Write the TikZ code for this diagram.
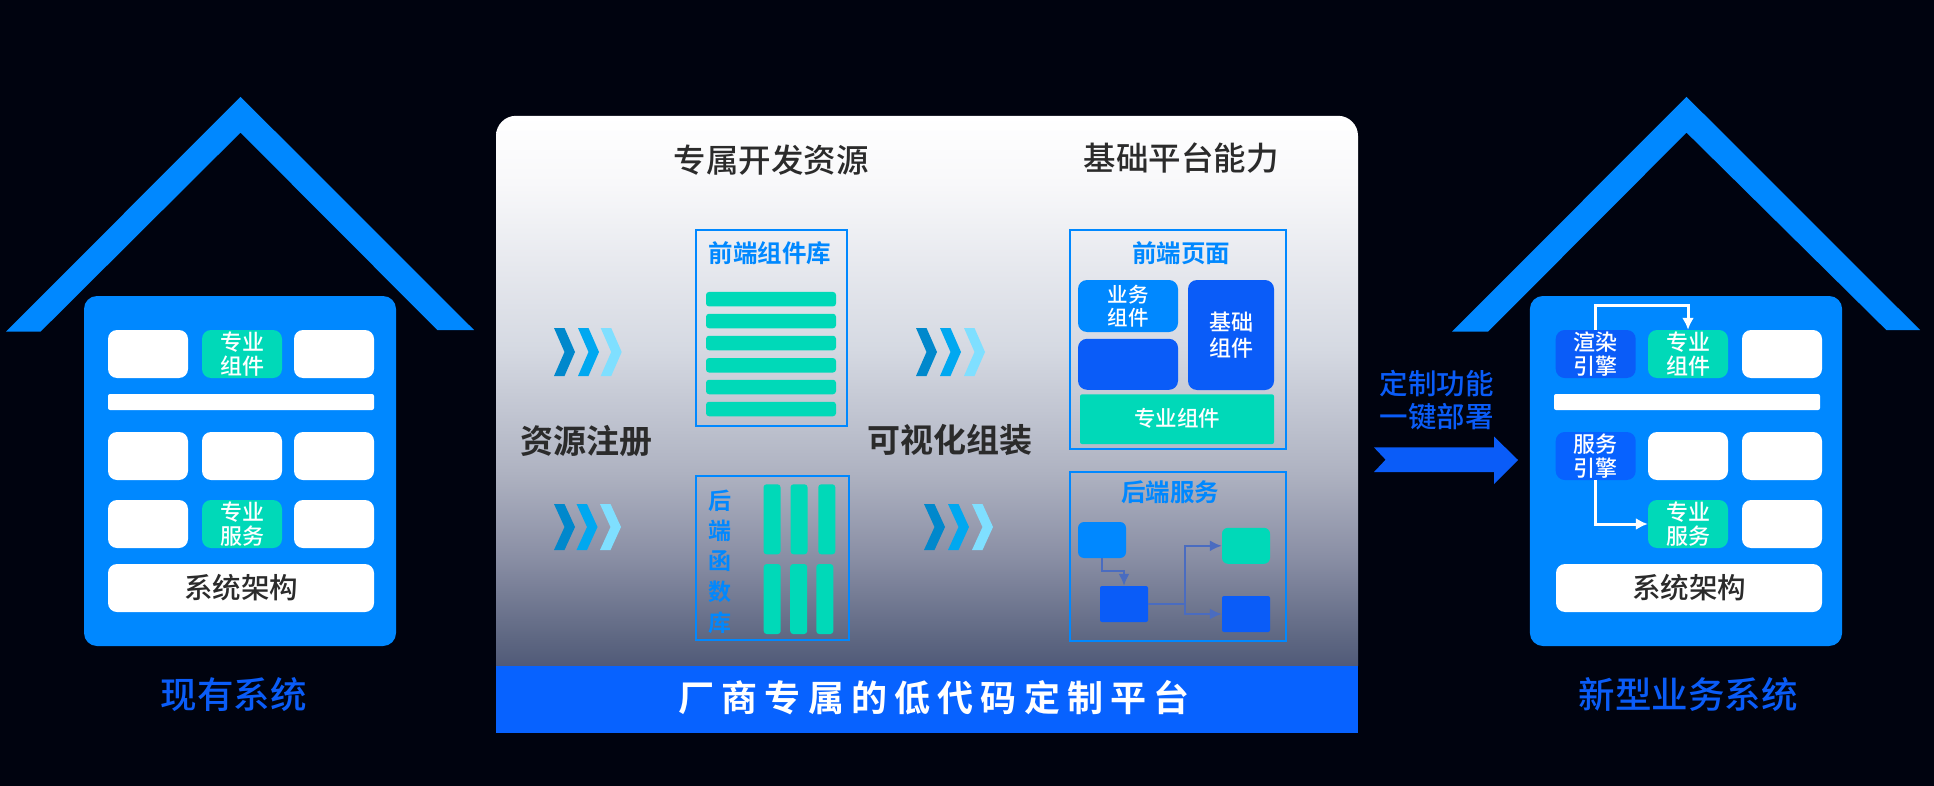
\documentclass[tikz,border=0pt]{standalone}
\usepackage{fontspec}
\setmainfont[UprightFont=* Medium,BoldFont=* Bold]{Noto Sans CJK SC}
\newfontfamily\bandfont[LetterSpace=20,UprightFont=* Bold]{Noto Sans CJK SC}
\usetikzlibrary{arrows.meta}
\definecolor{bgdark}{HTML}{00030F}
\definecolor{bodyblue}{HTML}{0088FF}
\definecolor{deepblue}{HTML}{0A5CF8}
\definecolor{bandblue}{HTML}{0762FF}
\definecolor{tealbox}{HTML}{00D9B8}
\definecolor{inkdark}{HTML}{2B2B2B}
\definecolor{flowline}{HTML}{4A6CC0}
\definecolor{chevdark}{HTML}{0088CC}
\definecolor{chevmid}{HTML}{00A8F0}
\definecolor{chevlight}{HTML}{7FDFFF}
\definecolor{gradA}{HTML}{505A78}
\definecolor{gradB}{HTML}{5E6782}
\definecolor{gradC}{HTML}{8A8FA5}
\definecolor{gradD}{HTML}{AEB2C1}
\definecolor{gradE}{HTML}{D5D9E2}
\definecolor{gradF}{HTML}{F8F8FA}
\pgfdeclareverticalshading{panelgrad}{100bp}{color(0bp)=(gradA); color(25bp)=(gradA); color(27.5bp)=(gradB); color(35bp)=(gradC); color(42.5bp)=(gradD); color(53.8bp)=(gradE); color(68.9bp)=(gradF); color(75bp)=(white); color(100bp)=(white)}
\newcommand{\fsz}[1]{\fontsize{#1}{#1}\selectfont}
\newcommand{\chevrons}[5]{% x1, x2, x3, top, bottom
\foreach \x/\c in {#1/chevdark,#2/chevmid,#3/chevlight} {
	\fill[\c] (\x,#4) -- (\x+10.5,#4) -- (\x+21,{(#4+#5)/2}) -- (\x+10.5,#5) -- (\x,#5) -- (\x+10.5,{(#4+#5)/2}) -- cycle;
}}
\tikzset{
	cell/.style={fill=white,rounded corners=9pt,minimum width=80pt,minimum height=48pt,inner sep=0pt,text=white,align=center,font=\fsz{22}},
	wide/.style={cell,minimum width=266pt,text=inkdark,font=\fsz{28.5}},
	thinbar/.style={fill=white,rounded corners=2pt,minimum width=266pt,minimum height=16pt,inner sep=0pt},
	teal/.style={cell,fill=tealbox},
	engine/.style={cell,fill=deepblue},
	house/.style={fill=bodyblue,rounded corners=13pt,minimum width=#1,minimum height=350pt,inner sep=0pt},
	caption/.style={text=deepblue,inner sep=0pt,font=\fsz{36.5}},
	heading/.style={text=inkdark,inner sep=0pt,font=\fsz{32.5}},
	stage/.style={text=inkdark,inner sep=0pt,font=\fsz{33}\bfseries},
	frame/.style={draw=bodyblue,line width=2pt,inner sep=0pt},
	frametitle/.style={text=bodyblue,inner sep=0pt,align=center,font=\fsz{24.5}\bfseries},
	tealbar/.style={fill=tealbox,rounded corners=3pt,minimum width=130pt,minimum height=14.5pt,inner sep=0pt},
	pillar/.style={fill=tealbox,rounded corners=3pt,minimum width=17pt,minimum height=70pt,inner sep=0pt},
	flowbox/.style={minimum width=48pt,minimum height=36pt,inner sep=0pt,rounded corners=6pt},
	flowarrow/.style={draw=flowline,line width=2pt,-{Latex[length=12pt,width=11pt]}},
	whitearrow/.style={draw=white,line width=3pt,-{Latex[length=12pt,width=12pt]}}
}
\begin{document}
\begin{tikzpicture}[x=1pt,y=-1pt]
\fill[bgdark] (0,0) rectangle (1934,786);
\useasboundingbox (0,0) rectangle (1934,786);
% roofs
\fill[bodyblue] (6,331.7) -- (240.5,96.8) -- (474,330) -- (437.3,330) -- (240.5,132.6) -- (40.5,331.7) -- cycle;
\fill[bodyblue] (1452,331.7) -- (1686.5,96.8) -- (1920,330) -- (1886.3,330) -- (1686.5,132.6) -- (1488,331.7) -- cycle;
% left house
\node[house=312pt] (oldbody) at (240,471) {};
\foreach \x/\n in {148/a,334/c} {
	\node[cell] (old1\n) at (\x,354) {};
	\node[cell] (old3\n) at (\x,524) {};
}
\foreach \x/\n in {148/a,242/b,334/c} {
	\node[cell] (old2\n) at (\x,456) {};
}
\node[teal] (oldcomp) at (242,354) {\raisebox{2pt}{\shortstack[c]{专业\\[1pt]组件}}};
\node[teal] (oldsvc) at (242,524) {\raisebox{2pt}{\shortstack[c]{专业\\[1pt]服务}}};
\node[thinbar] (oldbar) at (241,402) {};
\node[wide] (oldbase) at (241,588) {\raisebox{2pt}{系统架构}};
\node[caption] (oldname) at (233.7,695) {现有系统};
% platform panel
\shade[shading=panelgrad] (496,666) {[rounded corners=20pt] -- (496,115.8) -- (1358,115.8)} -- (1358,666) -- cycle;
\fill[bandblue] (496,665.8) rectangle (1358,733.4);
\node[text=white,inner sep=0pt,font=\fsz{36}\bandfont] (band) at (934,697.7) {厂商专属的低代码定制平台};
\node[heading] (reshead) at (771,160) {专属开发资源};
\node[heading] (basehead) at (1181,158) {基础平台能力};
\node[stage] (register) at (586,441) {资源注册};
\node[stage] (assemble) at (949.6,440) {可视化组装};
\chevrons{554}{578}{600.7}{328}{376}
\chevrons{554}{576.5}{600}{504}{550}
\chevrons{916}{940}{964}{328}{376}
\chevrons{924}{948}{972}{504}{550}
% front-end library
\node[frame,minimum width=151.4pt,minimum height=196pt] (libbox) at (771.5,328.2) {};
\node[frametitle] (libtitle) at (770,253.4) {前端组件库};
\foreach \y/\n in {299.2/1,321/2,343/3,365.3/4,387/5,409/6} {
	\node[tealbar] (libbar\n) at (771,\y) {};
}
% back-end library
\node[frame,minimum width=153.4pt,minimum height=164.5pt] (fnbox) at (772.5,558.2) {};
\node[frametitle,font=\fsz{23}\bfseries] (fntitle) at (720,561.5) {\shortstack[c]{后\\[6pt]端\\[6pt]函\\[6pt]数\\[6pt]库}};
\foreach \x/\xx/\n in {772/772.2/1,799/798.7/2,826.8/824.8/3} {
	\node[pillar] (fntop\n) at (\x,519.3) {};
	\node[pillar] (fnlow\n) at (\xx,599) {};
}
% front-end page
\node[frame,minimum width=216.6pt,minimum height=219pt] (pagebox) at (1178,339.4) {};
\node[frametitle] (pagetitle) at (1181,253.4) {前端页面};
\node[cell,fill=bodyblue,minimum width=100pt,minimum height=52pt,font=\fsz{20.5}] (bizcomp) at (1128,306) {\raisebox{1pt}{\shortstack[c]{业务\\[1pt]组件}}};
\node[cell,fill=deepblue,minimum width=100pt,minimum height=51pt] (blankcomp) at (1128,364.3) {};
\node[cell,fill=deepblue,minimum width=86pt,minimum height=110pt] (basecomp) at (1231,335) {\raisebox{2pt}{\shortstack[c]{基础\\[3pt]组件}}};
\node[teal,rounded corners=2pt,minimum width=194pt,minimum height=49.7pt,font=\fsz{21.5}] (widecomp) at (1177,419.2) {\raisebox{3pt}{专业组件}};
% back-end service
\node[frame,minimum width=216.6pt,minimum height=168.5pt] (svcbox) at (1178,556.4) {};
\node[frametitle] (svctitle) at (1170,492.5) {后端服务};
\node[flowbox,fill=bodyblue] (flowa) at (1102,540) {};
\node[flowbox,fill=deepblue,rounded corners=2pt] (flowb) at (1124,604) {};
\node[flowbox,fill=tealbox] (flowc) at (1246,545.8) {};
\node[flowbox,fill=deepblue,rounded corners=2pt] (flowd) at (1246,614) {};
\draw[flowarrow] (flowa.south) -- ++(0,12.4) -| (flowb.north);
\draw[flowarrow] (flowb.east) -- ++(37,0) |- (flowc.west);
\draw[flowarrow] (flowb.east) -- ++(37,0) |- (flowd.west);
% deploy arrow
\node[text=deepblue,inner sep=0pt,align=center,font=\fsz{28.5}] (deploy) at (1436.5,400) {\shortstack[c]{定制功能\\[4pt]一键部署}};
\fill[deepblue] (1374,447.4) -- (1494,447.4) -- (1494,436.5) -- (1518,460) -- (1494,484) -- (1494,472) -- (1374,472) -- (1385.6,459.7) -- cycle;
% right house
\node[house=312.2pt] (newbody) at (1686,471) {};
\node[engine] (render) at (1595.7,354) {\raisebox{2pt}{\shortstack[c]{渲染\\[1pt]引擎}}};
\node[teal] (newcomp) at (1688,354) {\raisebox{2pt}{\shortstack[c]{专业\\[1pt]组件}}};
\node[cell] (new1c) at (1782,354) {};
\node[thinbar] (newbar) at (1687,402) {};
\node[engine,fill=bandblue] (service) at (1595.7,456) {\raisebox{2pt}{\shortstack[c]{服务\\[1pt]引擎}}};
\node[cell] (new2b) at (1688,456) {};
\node[cell] (new2c) at (1782,456) {};
\node[teal] (newsvc) at (1688,524) {\raisebox{2pt}{\shortstack[c]{专业\\[1pt]服务}}};
\node[cell] (new3c) at (1782,524) {};
\node[wide] (newbase) at (1689,588) {\raisebox{2pt}{系统架构}};
\node[caption] (newname) at (1688,695) {新型业务系统};
\draw[whitearrow] (render.north) -- ++(0,-24) -| (newcomp.north);
\draw[whitearrow] (service.south) |- (newsvc.west);
\end{tikzpicture}
\end{document}
